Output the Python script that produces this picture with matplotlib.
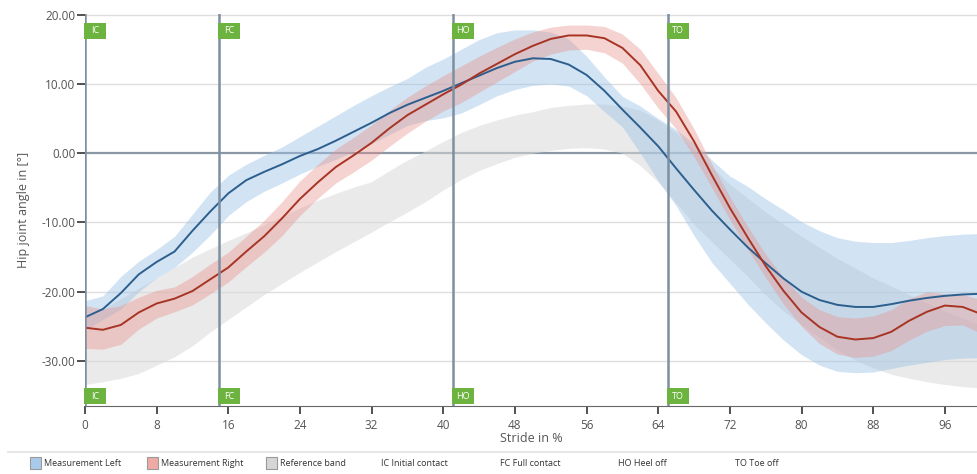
import matplotlib
matplotlib.use("Agg")
import matplotlib.pyplot as plt
import matplotlib.transforms as mtransforms
from matplotlib.patches import Rectangle
from matplotlib.lines import Line2D
import numpy as np

# stride in %
stride = [0, 2, 4, 6, 8, 10, 12, 14, 16, 18, 20, 22, 24, 26, 28, 30, 32, 34, 36, 38,
          40, 42, 44, 46, 48, 50, 52, 54, 56, 58, 60, 62, 64, 66, 68, 70, 72, 74, 76, 78,
          80, 82, 84, 86, 88, 90, 92, 94, 96, 98, 100]

left_mean = [-23.7, -22.5, -20.2, -17.5, -15.7, -14.2, -11.2, -8.4, -5.8, -3.9,
             -2.7, -1.6, -0.4, 0.6, 1.8, 3.1, 4.4, 5.8, 7.0, 8.0,
             9.0, 10.1, 11.2, 12.3, 13.2, 13.7, 13.6, 12.8, 11.3, 9.0,
             6.3, 3.7, 1.0, -2.2, -5.3, -8.3, -11.0, -13.6, -15.9, -18.1,
             -20.0, -21.2, -21.9, -22.2, -22.2, -21.8, -21.3, -20.9, -20.6, -20.4, -20.3]
left_hi = [-21.3, -20.6, -17.8, -15.6, -13.9, -12.0, -8.8, -5.6, -3.2, -1.6,
           -0.3, 0.9, 2.4, 3.9, 5.4, 6.9, 8.3, 9.6, 10.8, 12.4,
           13.6, 15.0, 16.4, 17.4, 17.8, 17.8, 17.5, 16.5, 14.0, 11.0,
           8.2, 6.8, 5.0, 3.4, 1.4, -1.0, -3.3, -4.8, -6.6, -8.2,
           -9.9, -11.2, -12.2, -12.7, -12.9, -12.9, -12.6, -12.2, -11.9, -11.7, -11.6]
left_lo = [-25.5, -24.0, -22.5, -20.0, -18.0, -16.5, -14.3, -11.8, -9.0, -7.0,
           -5.5, -4.3, -3.0, -1.9, -0.9, 0.3, 1.4, 2.7, 4.0, 4.7,
           5.1, 5.8, 7.0, 8.3, 9.2, 9.8, 10.0, 9.7, 8.3, 6.0,
           3.8, 0.0, -4.0, -7.6, -11.9, -15.8, -18.8, -21.8, -24.5, -27.0,
           -29.1, -30.6, -31.5, -31.7, -31.6, -31.1, -30.6, -30.2, -29.8, -29.6, -29.5]

right_mean = [-25.2, -25.5, -24.8, -23.0, -21.7, -21.0, -19.9, -18.2, -16.5, -14.2,
              -12.0, -9.4, -6.6, -4.2, -2.0, -0.3, 1.5, 3.6, 5.5, 7.0,
              8.5, 9.9, 11.5, 12.9, 14.3, 15.5, 16.5, 17.0, 17.0, 16.6,
              15.2, 12.7, 9.0, 6.0, 1.7, -3.2, -7.9, -12.2, -16.3, -19.9,
              -23.0, -25.1, -26.5, -26.9, -26.7, -25.8, -24.2, -22.9, -22.0, -22.2, -23.2]
right_hi = [-22.0, -22.5, -22.0, -20.8, -19.8, -19.3, -17.8, -16.0, -14.3, -12.0,
            -9.7, -7.0, -4.0, -1.6, 0.6, 2.3, 4.1, 6.2, 8.1, 9.7,
            11.2, 12.6, 14.0, 15.3, 16.5, 17.5, 18.2, 18.5, 18.5, 18.3,
            17.2, 15.0, 11.5, 8.0, 3.5, -1.6, -6.3, -10.6, -14.6, -18.0,
            -20.8, -22.6, -23.6, -23.8, -23.5, -22.6, -21.0, -20.0, -20.3, -20.4, -21.1]
right_lo = [-28.2, -28.3, -27.6, -25.4, -23.8, -22.9, -21.9, -20.3, -18.6, -16.4,
            -14.3, -11.9, -9.0, -6.5, -4.3, -2.7, -1.0, 1.0, 2.9, 4.6,
            6.1, 7.3, 8.8, 10.3, 11.8, 13.3, 14.3, 14.9, 15.0, 14.5,
            13.0, 10.0, 6.5, 3.5, -0.5, -5.0, -9.6, -13.9, -18.0, -21.8,
            -25.0, -27.5, -29.0, -29.5, -29.3, -28.5, -27.0, -25.7, -24.9, -24.8, -26.0]

ref_hi = [-23.5, -22.5, -21.0, -19.5, -18.0, -16.5, -15.0, -13.8, -12.6, -11.5,
          -10.3, -9.1, -7.9, -6.8, -5.8, -4.9, -4.1, -2.5, -1.0, 0.3,
          1.7, 3.0, 4.0, 4.8, 5.5, 6.0, 6.6, 6.9, 7.1, 7.1,
          6.8, 6.2, 4.8, 3.0, 0.5, -2.0, -4.5, -6.5, -8.5, -10.3,
          -12.0, -13.6, -15.2, -16.6, -18.0, -19.2, -20.4, -21.6, -22.8, -23.8, -24.8]
ref_lo = [-33.4, -33.0, -32.5, -31.8, -30.6, -29.4, -27.8, -25.8, -24.0, -22.2,
          -20.4, -18.8, -17.2, -15.7, -14.2, -12.8, -11.4, -9.9, -8.5, -7.0,
          -5.3, -3.8, -2.5, -1.5, -0.6, 0.0, 0.4, 0.7, 0.8, 0.6,
          0.0, -1.8, -4.2, -7.2, -10.3, -12.8, -15.3, -17.8, -20.5, -22.8,
          -24.8, -26.6, -28.4, -29.9, -31.0, -31.9, -32.5, -33.0, -33.4, -33.7, -33.9]

events = [("IC", 0.0), ("FC", 15.0), ("HO", 41.1), ("TO", 65.1)]
legend_items = ["Measurement Left", "Measurement Right", "Reference band",
                "IC Initial contact", "FC Full contact", "HO Heel off", "TO Toe off"]

plt.rcParams['font.family'] = ['Open Sans', 'DejaVu Sans']

fig = plt.figure(figsize=(9.78, 4.74), dpi=100)
ax = fig.add_axes([0.0869, 0.1435, 0.9131, 0.827])

ax.fill_between(stride, ref_lo, ref_hi, color='#d9d9d9', alpha=0.55, lw=0, zorder=2)
ax.fill_between(stride, left_lo, left_hi, color='#9cc3e6', alpha=0.45, lw=0, zorder=3)
ax.fill_between(stride, right_lo, right_hi, color='#e8928c', alpha=0.4, lw=0, zorder=4)
ax.plot(stride, left_mean, color='#2c5f8e', lw=1.4, zorder=6)
ax.plot(stride, right_mean, color='#a83424', lw=1.4, zorder=6)

ax.set_xlim(0, 99.7)
ax.set_ylim(-36.5, 20.1)
ax.set_yticks(np.arange(-30, 21, 10))
ax.set_yticklabels([f"{v:.2f}" for v in np.arange(-30, 21, 10)])
ax.set_xticks(np.arange(0, 97, 8))
for y in np.arange(-30, 21, 10):
    if y == 0:
        ax.axhline(0, color='#8a98a6', lw=1.6, zorder=1)
    else:
        ax.axhline(y, color='#dedede', lw=1.0, zorder=1)

for spine in ['top', 'right', 'left']:
    ax.spines[spine].set_visible(False)
ax.spines['bottom'].set_color('#666666')
ax.tick_params(axis='both', direction='out', colors='#333333', labelcolor='#555555',
               labelsize=8.5, length=6, width=1.2)
ax.tick_params(axis='y', pad=1)

ax.set_xlabel("Stride in %", fontsize=9, color='#555555', labelpad=0)
ax.set_ylabel("Hip joint angle in [°]", fontsize=9, color='#555555', labelpad=8)

trans = mtransforms.blended_transform_factory(ax.transData, ax.transAxes)
for name, xe in events:
    ax.axvline(xe, color='#7d8fa0', lw=1.8, zorder=7)
    for yb in (0.004, 0.936):
        ax.add_patch(Rectangle((xe - 0.1, yb), 2.4, 0.042, transform=trans,
                               facecolor='#6db33f', edgecolor='none', zorder=8, clip_on=False))
        ax.text(xe + 1.1, yb + 0.021, name, transform=trans, ha='center', va='center',
                color='white', fontsize=6.5, zorder=9)

# legend row
fig.add_artist(Line2D([0.008, 1.0], [1 - 452 / 474, 1 - 452 / 474], color='#e0e0e0', lw=1.2))
ly = 1 - 463 / 474
patch_colors = ['#a9cbeb', '#f0aaa5', '#d6d6d6']
xpos = [30, 147, 266, 381, 500, 618, 735]
for i, label in enumerate(legend_items):
    x0 = xpos[i] / 978
    if i < 3:
        fig.add_artist(Rectangle((x0, ly - 0.012), 11 / 978, 0.024, facecolor=patch_colors[i],
                                 edgecolor='#9a9a9a', lw=0.8, transform=fig.transFigure))
        fig.text(x0 + 14 / 978, ly, label, fontsize=6.5, color='#333333', va='center')
    else:
        fig.text(x0, ly, label, fontsize=6.5, color='#333333', va='center')

fig.savefig("out.png", dpi=100)
